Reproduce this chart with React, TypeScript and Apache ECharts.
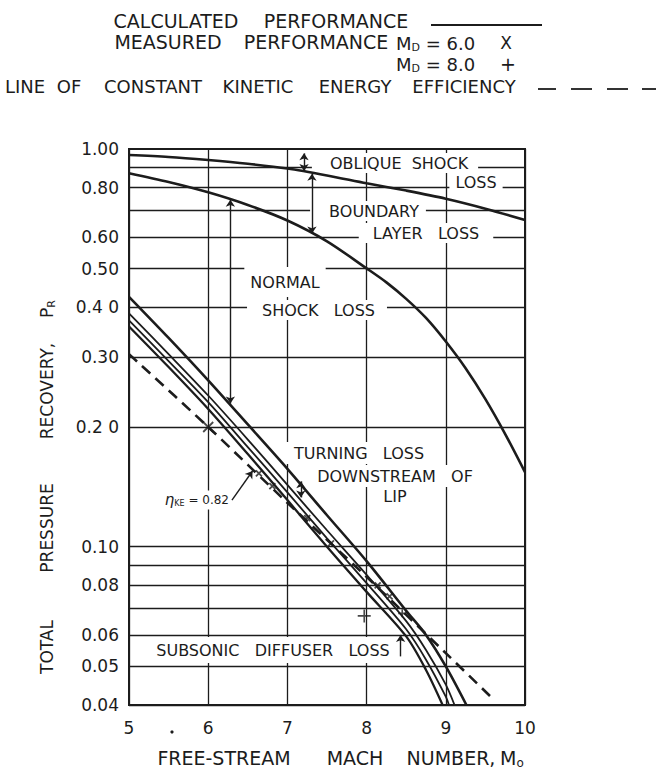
import React, { useEffect, useRef } from "react";
import * as echarts from "echarts";

// ---------------- data ----------------
const machTicks = [5, 6, 7, 8, 9, 10];
const pressureGridValues = [1.0, 0.9, 0.8, 0.7, 0.6, 0.5, 0.4, 0.3, 0.2, 0.1, 0.09, 0.08, 0.07, 0.06, 0.05, 0.04];
const pressureLabelValues = [1.0, 0.8, 0.6, 0.5, 0.4, 0.3, 0.2, 0.1, 0.08, 0.06, 0.05, 0.04];
const pressureLabelTexts = ["1.00", "0.80", "0.60", "0.50", "0.4 0", "0.30", "0.2 0", "0.10", "0.08", "0.06", "0.05", "0.04"];

// calculated performance curves [Mach, P_R]
const afterObliqueShock = [
  [5, 0.966], [5.5, 0.955], [6, 0.938], [6.5, 0.918], [7, 0.893], [7.5, 0.858],
  [8, 0.82], [8.5, 0.786], [9, 0.75], [9.5, 0.708], [10, 0.663],
];
const afterBoundaryLayer = [
  [5, 0.869], [5.5, 0.826], [6, 0.778], [6.5, 0.723], [7, 0.661], [7.5, 0.586],
  [8, 0.501], [8.25, 0.462], [8.5, 0.42], [8.75, 0.376], [9, 0.328], [9.25, 0.281],
  [9.5, 0.235], [9.75, 0.192], [10, 0.154],
];
const afterNormalShock = [
  [5, 0.425], [5.5, 0.335], [6, 0.262], [6.5, 0.203], [7, 0.157], [7.5, 0.12],
  [8, 0.092], [8.5, 0.069], [8.75, 0.06], [9, 0.05], [9.26, 0.04],
];
const afterTurningLoss = [
  [5, 0.386], [5.5, 0.305], [6, 0.24], [6.5, 0.186], [7, 0.143], [7.5, 0.11],
  [8, 0.085], [8.5, 0.065], [8.75, 0.055], [9, 0.045], [9.11, 0.04],
];
const innerCalculated = [
  [5, 0.371], [5.5, 0.293], [6, 0.231], [6.5, 0.178], [7, 0.137], [7.5, 0.105],
  [8, 0.081], [8.5, 0.062], [8.75, 0.052], [9, 0.042], [9.04, 0.04],
];
const afterSubsonicDiffuser = [
  [5, 0.358], [5.5, 0.283], [6, 0.222], [6.5, 0.171], [7, 0.131], [7.5, 0.1],
  [8, 0.077], [8.5, 0.0595], [8.75, 0.049], [8.96, 0.04],
];
const constantKineticEfficiency = [
  [5, 0.305], [6, 0.2], [7, 0.129], [8, 0.084], [9, 0.054], [9.62, 0.041],
];
const measuredMd6 = [
  [6.0, 0.2], [6.64, 0.153], [6.81, 0.142], [7.25, 0.118], [7.55, 0.102], [8.14, 0.08], [8.29, 0.075],
];
const measuredMd8 = [[7.97, 0.067], [8.45, 0.068]];

// loss arrows: [Mach, from P_R, to P_R, start arrow?, end arrow?]
const lossArrows: [number, number, number, boolean, boolean][] = [
  [7.21, 0.975, 0.88, true, true],
  [7.31, 0.866, 0.613, true, true],
  [6.28, 0.745, 0.229, true, true],
  [7.17, 0.146, 0.133, true, true],
  [8.43, 0.053, 0.06, false, true],
];
const etaLeader = [[6.3, 0.131], [6.56, 0.155]];

// ---------------- styles ----------------
const INK = "#1c1c1c";
const FONT = '"DejaVu Sans", sans-serif';

function txt(text: string, x: number, y: number, size: number, extra: any = {}) {
  return {
    type: "text",
    x,
    y,
    z: 3,
    rotation: extra.rotation || 0,
    style: {
      text,
      fill: INK,
      fontSize: size,
      fontFamily: FONT,
      align: extra.align || "center",
      verticalAlign: "middle",
      backgroundColor: extra.bg ? "#ffffff" : undefined,
      padding: extra.bg ? extra.pad || [2, 6] : 0,
      rich: extra.rich,
    },
  };
}

const subRich = (size: number) => ({
  m: { fontSize: size, fontFamily: FONT, color: INK },
  s: { fontSize: Math.round(size * 0.62), fontFamily: FONT, color: INK, padding: [Math.round(size * 0.45), 0, 0, 0] },
});

function hline(x1: number, x2: number, y: number, w = 1.8) {
  return { type: "line", z: 3, shape: { x1, y1: y, x2, y2: y }, style: { stroke: INK, lineWidth: w } };
}

const graphicElements: any[] = [
  // header legend
  txt("CALCULATED", 176, 21, 19),
  txt("PERFORMANCE", 336, 21, 19),
  hline(431, 542, 25),
  txt("MEASURED", 168, 42, 19),
  txt("PERFORMANCE", 316, 42, 19),
  txt("{m|M}{s|D}{m| = 6.0}", 396, 43, 18, { align: "left", rich: subRich(18) }),
  txt("X", 506, 43, 17),
  txt("{m|M}{s|D}{m| = 8.0}", 396, 64, 18, { align: "left", rich: subRich(18) }),
  txt("+", 508, 64, 19),
  txt("LINE", 25, 86, 18),
  txt("OF", 69, 86, 18),
  txt("CONSTANT", 153, 86, 18),
  txt("KINETIC", 258, 86, 18),
  txt("ENERGY", 355, 86, 18),
  txt("EFFICIENCY", 464, 86, 18),
  hline(538, 556, 89),
  hline(571, 592, 89),
  hline(607, 628, 89),
  hline(642, 656, 89),

  // annotations inside plot
  txt("OBLIQUE  SHOCK", 395, 163, 16, { bg: true, pad: [2, 10, 2, 18] }),
  txt("LOSS", 476, 182, 16, { bg: true, pad: [2, 6] }),
  txt("BOUNDARY", 368, 211, 16, { bg: true, pad: [2, 7, 2, 19] }),
  txt("LAYER   LOSS", 426, 233, 16, { bg: true, pad: [2, 14, 2, 14] }),
  txt("NORMAL", 285, 282, 16, { bg: true, pad: [4, 6, 10, 6] }),
  txt("SHOCK   LOSS", 317, 310, 16, { bg: true, pad: [2, 12, 2, 15] }),
  txt("TURNING   LOSS", 358, 453, 16, { bg: true, pad: [3, 8, 3, 10] }),
  txt("DOWNSTREAM   OF", 395, 476, 16, { bg: true, pad: [3, 6] }),
  txt("LIP", 395, 496, 16, { bg: true, pad: [3, 6] }),
  txt("SUBSONIC   DIFFUSER   LOSS", 273, 650, 16, { bg: true, pad: [5, 6] }),
  txt("{g|η}{s|KE}{n| = 0.82}", 231, 500, 14, {
    align: "right",
    bg: true,
    pad: [2, 2],
    rich: {
      g: { fontSize: 15, fontFamily: FONT, color: INK, fontStyle: "italic" },
      s: { fontSize: 8, fontFamily: FONT, color: INK, padding: [7, 0, 0, 0] },
      n: { fontSize: 12, fontFamily: FONT, color: INK },
    },
  }),

  // axis titles
  txt("FREE-STREAM", 224, 758, 19),
  txt("MACH", 355, 758, 19),
  txt("NUMBER,", 451, 758, 19),
  txt("{m|M}{s|o}", 500, 758, 19, { align: "left", rich: subRich(19) }),
  txt("TOTAL", 47, 647, 17, { rotation: Math.PI / 2 }),
  txt("PRESSURE", 47, 528, 17, { rotation: Math.PI / 2 }),
  txt("RECOVERY,", 47, 391, 17, { rotation: Math.PI / 2 }),
  txt("{m|P}{s|R}", 47, 309, 17, { rotation: Math.PI / 2, rich: subRich(17) }),
  { type: "circle", z: 3, shape: { cx: 172, cy: 732, r: 1.6 }, style: { fill: INK } },
];

function curve(name: string, data: number[][], width: number, dashed = false) {
  return {
    name,
    type: "line",
    data,
    z: 5,
    smooth: 0.3,
    showSymbol: false,
    silent: true,
    lineStyle: { color: INK, width, type: dashed ? [11, 7] : "solid" },
  };
}

const option: any = {
  animation: false,
  backgroundColor: "#ffffff",
  grid: { left: 129, top: 149, width: 396, height: 556, show: true, borderColor: INK, borderWidth: 2, backgroundColor: "transparent" },
  xAxis: {
    type: "value",
    min: machTicks[0],
    max: machTicks[machTicks.length - 1],
    interval: 1,
    axisLine: { show: true, lineStyle: { color: INK, width: 2 } },
    axisTick: { show: false },
    axisLabel: { fontSize: 17, color: INK, fontFamily: FONT, margin: 14 },
    splitLine: { show: true, lineStyle: { color: INK, width: 1.3 } },
  },
  yAxis: {
    type: "log",
    logBase: 10,
    min: 0.04,
    max: 1,
    axisLine: { show: true, lineStyle: { color: INK, width: 2 } },
    axisTick: { show: false },
    axisLabel: { show: false },
    splitLine: { show: false },
  },
  graphic: { elements: graphicElements },
  series: [
    {
      name: "grid",
      type: "line",
      data: [[5, 1]],
      z: 1,
      showSymbol: false,
      silent: true,
      lineStyle: { width: 0 },
      markLine: {
        z: 1,
        silent: true,
        symbol: ["none", "none"],
        lineStyle: { color: INK, width: 1.3, type: "solid" },
        label: { show: false, position: "start", distance: 10, fontSize: 17, color: INK, fontFamily: FONT },
        emphasis: { disabled: true },
        data: pressureGridValues.map((v) => {
          const i = pressureLabelValues.indexOf(v);
          return {
            yAxis: v,
            lineStyle: { width: v === 1 ? 2 : 1.3 },
            label: i >= 0 ? { show: true, formatter: pressureLabelTexts[i] } : { show: false },
          };
        }),
      },
    },
    curve("Calculated – after oblique shock", afterObliqueShock, 2.6),
    curve("Calculated – after boundary layer", afterBoundaryLayer, 2.6),
    curve("Calculated – after normal shock", afterNormalShock, 2.6),
    curve("Calculated – after turning loss", afterTurningLoss, 1.8),
    curve("Calculated – inner", innerCalculated, 1.8),
    curve("Calculated – after subsonic diffuser", afterSubsonicDiffuser, 2.3),
    curve("Constant kinetic energy efficiency", constantKineticEfficiency, 2.6, true),
    {
      name: "Measured M_D = 6.0",
      type: "scatter",
      z: 6,
      silent: true,
      data: measuredMd6.map((p, i) => ({ value: p, symbolSize: i === 0 ? 10 : 6 })),
      symbol: "path://M0,0L10,10M10,0L0,10",
      itemStyle: { color: "none", borderColor: INK, borderWidth: 1.8 },
    },
    {
      name: "Measured M_D = 8.0",
      type: "scatter",
      z: 6,
      silent: true,
      data: measuredMd8.map((p, i) => ({ value: p, symbolSize: i === 0 ? 13 : 8 })),
      symbol: "path://M5,0L5,10M0,5L10,5",
      itemStyle: { color: "none", borderColor: INK, borderWidth: 1.6 },
    },
    {
      name: "arrows",
      type: "line",
      data: [[5, 1]],
      z: 6,
      showSymbol: false,
      silent: true,
      lineStyle: { width: 0 },
      markLine: {
        z: 6,
        silent: true,
        symbolSize: 7,
        label: { show: false },
        emphasis: { disabled: true },
        lineStyle: { color: INK, width: 1.4, type: "solid" },
        data: [
          ...lossArrows.map(([m, a, b, s, e]) => [
            { coord: [m, a], symbol: s ? "arrow" : "none" },
            { coord: [m, b], symbol: e ? "arrow" : "none" },
          ]),
          [
            { coord: etaLeader[0], symbol: "none" },
            { coord: etaLeader[1], symbol: "arrow" },
          ],
        ],
      },
    },
  ],
};

export default function App() {
  const ref = useRef<HTMLDivElement>(null);
  useEffect(() => {
    const chart = echarts.init(ref.current!, null, { renderer: "svg" });
    chart.setOption(option);
    return () => chart.dispose();
  }, []);
  return (
    <div
      ref={ref}
      style={{ position: "absolute", left: 0, top: 0, width: 656, height: 770, background: "#fff" }}
    />
  );
}
